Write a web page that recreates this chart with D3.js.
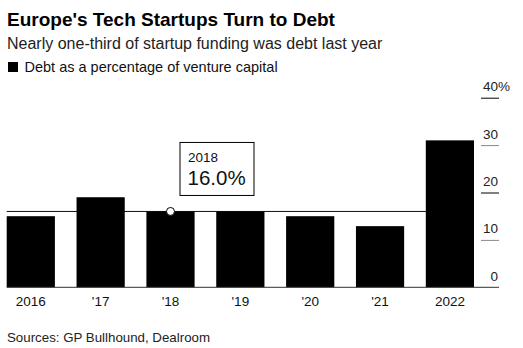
<!DOCTYPE html>
<html>
<head>
<meta charset="utf-8">
<script src="https://cdn.jsdelivr.net/npm/d3@7"></script>
<style>
  html, body { margin: 0; padding: 0; background: #fff; }
  svg { display: block; font-family: "Liberation Sans", Arial, sans-serif; }
</style>
</head>
<body>
<svg id="chart"></svg>
<script>
const years = ["2016", "'17", "'18", "'19", "'20", "'21", "2022"];
const debtShare = [15.0, 19.0, 16.0, 16.0, 15.0, 12.9, 31.0];
const yTicks = [0, 10, 20, 30, 40];
const highlightIndex = 2;
const highlightYear = "2018";

const width = 523;
const height = 348;

const svg = d3.select("#chart")
    .attr("width", width)
    .attr("height", height)
    .attr("viewBox", [0, 0, width, height]);

const x = d3.scaleBand()
    .domain(years)
    .range([6.7, 474])
    .paddingInner(0.31)
    .paddingOuter(0);

const y = d3.scaleLinear()
    .domain([0, 40])
    .range([287.3, 97.7]);

// titles
svg.append("text")
    .attr("x", 7).attr("y", 26)
    .attr("font-size", 19).attr("font-weight", "bold")
    .attr("fill", "#000")
    .text("Europe's Tech Startups Turn to Debt");
svg.append("text")
    .attr("x", 7).attr("y", 48.5)
    .attr("font-size", 16)
    .attr("fill", "#222")
    .text("Nearly one-third of startup funding was debt last year");

// legend
svg.append("rect")
    .attr("x", 8).attr("y", 62)
    .attr("width", 10).attr("height", 10)
    .attr("fill", "#000");
svg.append("text")
    .attr("x", 24.5).attr("y", 71.5)
    .attr("font-size", 14.5)
    .attr("fill", "#111")
    .text("Debt as a percentage of venture capital");

// crosshair line at the hovered value (behind bars)
svg.append("line")
    .attr("x1", x.range()[0]).attr("x2", x.range()[1])
    .attr("y1", y(debtShare[highlightIndex])).attr("y2", y(debtShare[highlightIndex]))
    .attr("stroke", "#111").attr("stroke-width", 1);

// bars
svg.append("g")
    .attr("fill", "#000")
    .selectAll("rect")
    .data(debtShare)
    .join("rect")
    .attr("x", (d, i) => x(years[i]))
    .attr("y", d => y(d))
    .attr("width", x.bandwidth())
    .attr("height", d => y(0) - y(d));

// right axis
const yAxis = svg.append("g")
    .attr("transform", `translate(481,0)`)
    .call(d3.axisRight(y).tickValues(yTicks).tickSize(18).tickFormat(d3.format("d")))
    .call(g => g.select(".domain").remove());
yAxis.selectAll(".tick line")
    .attr("stroke", (d, i) => i % 2 === 0 ? "#000" : "#888");
yAxis.selectAll(".tick line").filter(d => d === 0).remove();
yAxis.selectAll(".tick text")
    .attr("x", 17).attr("dy", 0).attr("y", -7)
    .attr("text-anchor", "end")
    .attr("font-size", 13.5)
    .attr("font-family", "Liberation Sans, Arial, sans-serif")
    .attr("fill", "#222");
yAxis.selectAll(".tick").filter(d => d === 40)
    .append("text")
    .attr("x", 17).attr("y", -7)
    .attr("font-size", 13.5)
    .attr("fill", "#222")
    .text("%");

// baseline
svg.append("line")
    .attr("x1", x.range()[0]).attr("x2", 499)
    .attr("y1", y(0)).attr("y2", y(0))
    .attr("stroke", "#333").attr("stroke-width", 1);

// x labels
svg.append("g")
    .selectAll("text")
    .data(years)
    .join("text")
    .attr("x", d => x(d) + x.bandwidth() / 2)
    .attr("y", 305.5)
    .attr("text-anchor", "middle")
    .attr("font-size", 13.5)
    .attr("fill", "#111")
    .text(d => d);

// highlight marker and tooltip
const cx = x(years[highlightIndex]) + x.bandwidth() / 2;
const cy = y(debtShare[highlightIndex]);
svg.append("circle")
    .attr("cx", cx).attr("cy", cy).attr("r", 4)
    .attr("fill", "#fff").attr("stroke", "#000").attr("stroke-width", 1);

const tip = svg.append("g")
    .attr("transform", `translate(${cx + 9.5},${cy - 69})`);
tip.append("rect")
    .attr("x", 0).attr("y", 0)
    .attr("width", 74).attr("height", 53)
    .attr("fill", "#fff").attr("stroke", "#000").attr("stroke-width", 1);
tip.append("text")
    .attr("x", 8).attr("y", 19.5)
    .attr("font-size", 13.5)
    .attr("fill", "#111")
    .text(highlightYear);
tip.append("text")
    .attr("x", 7.5).attr("y", 42.5)
    .attr("font-size", 20.5)
    .attr("fill", "#111")
    .text(d3.format(".1f")(debtShare[highlightIndex]) + "%");

// source
svg.append("text")
    .attr("x", 7).attr("y", 341.5)
    .attr("font-size", 13.3)
    .attr("fill", "#222")
    .text("Sources: GP Bullhound, Dealroom");
</script>
</body>
</html>
